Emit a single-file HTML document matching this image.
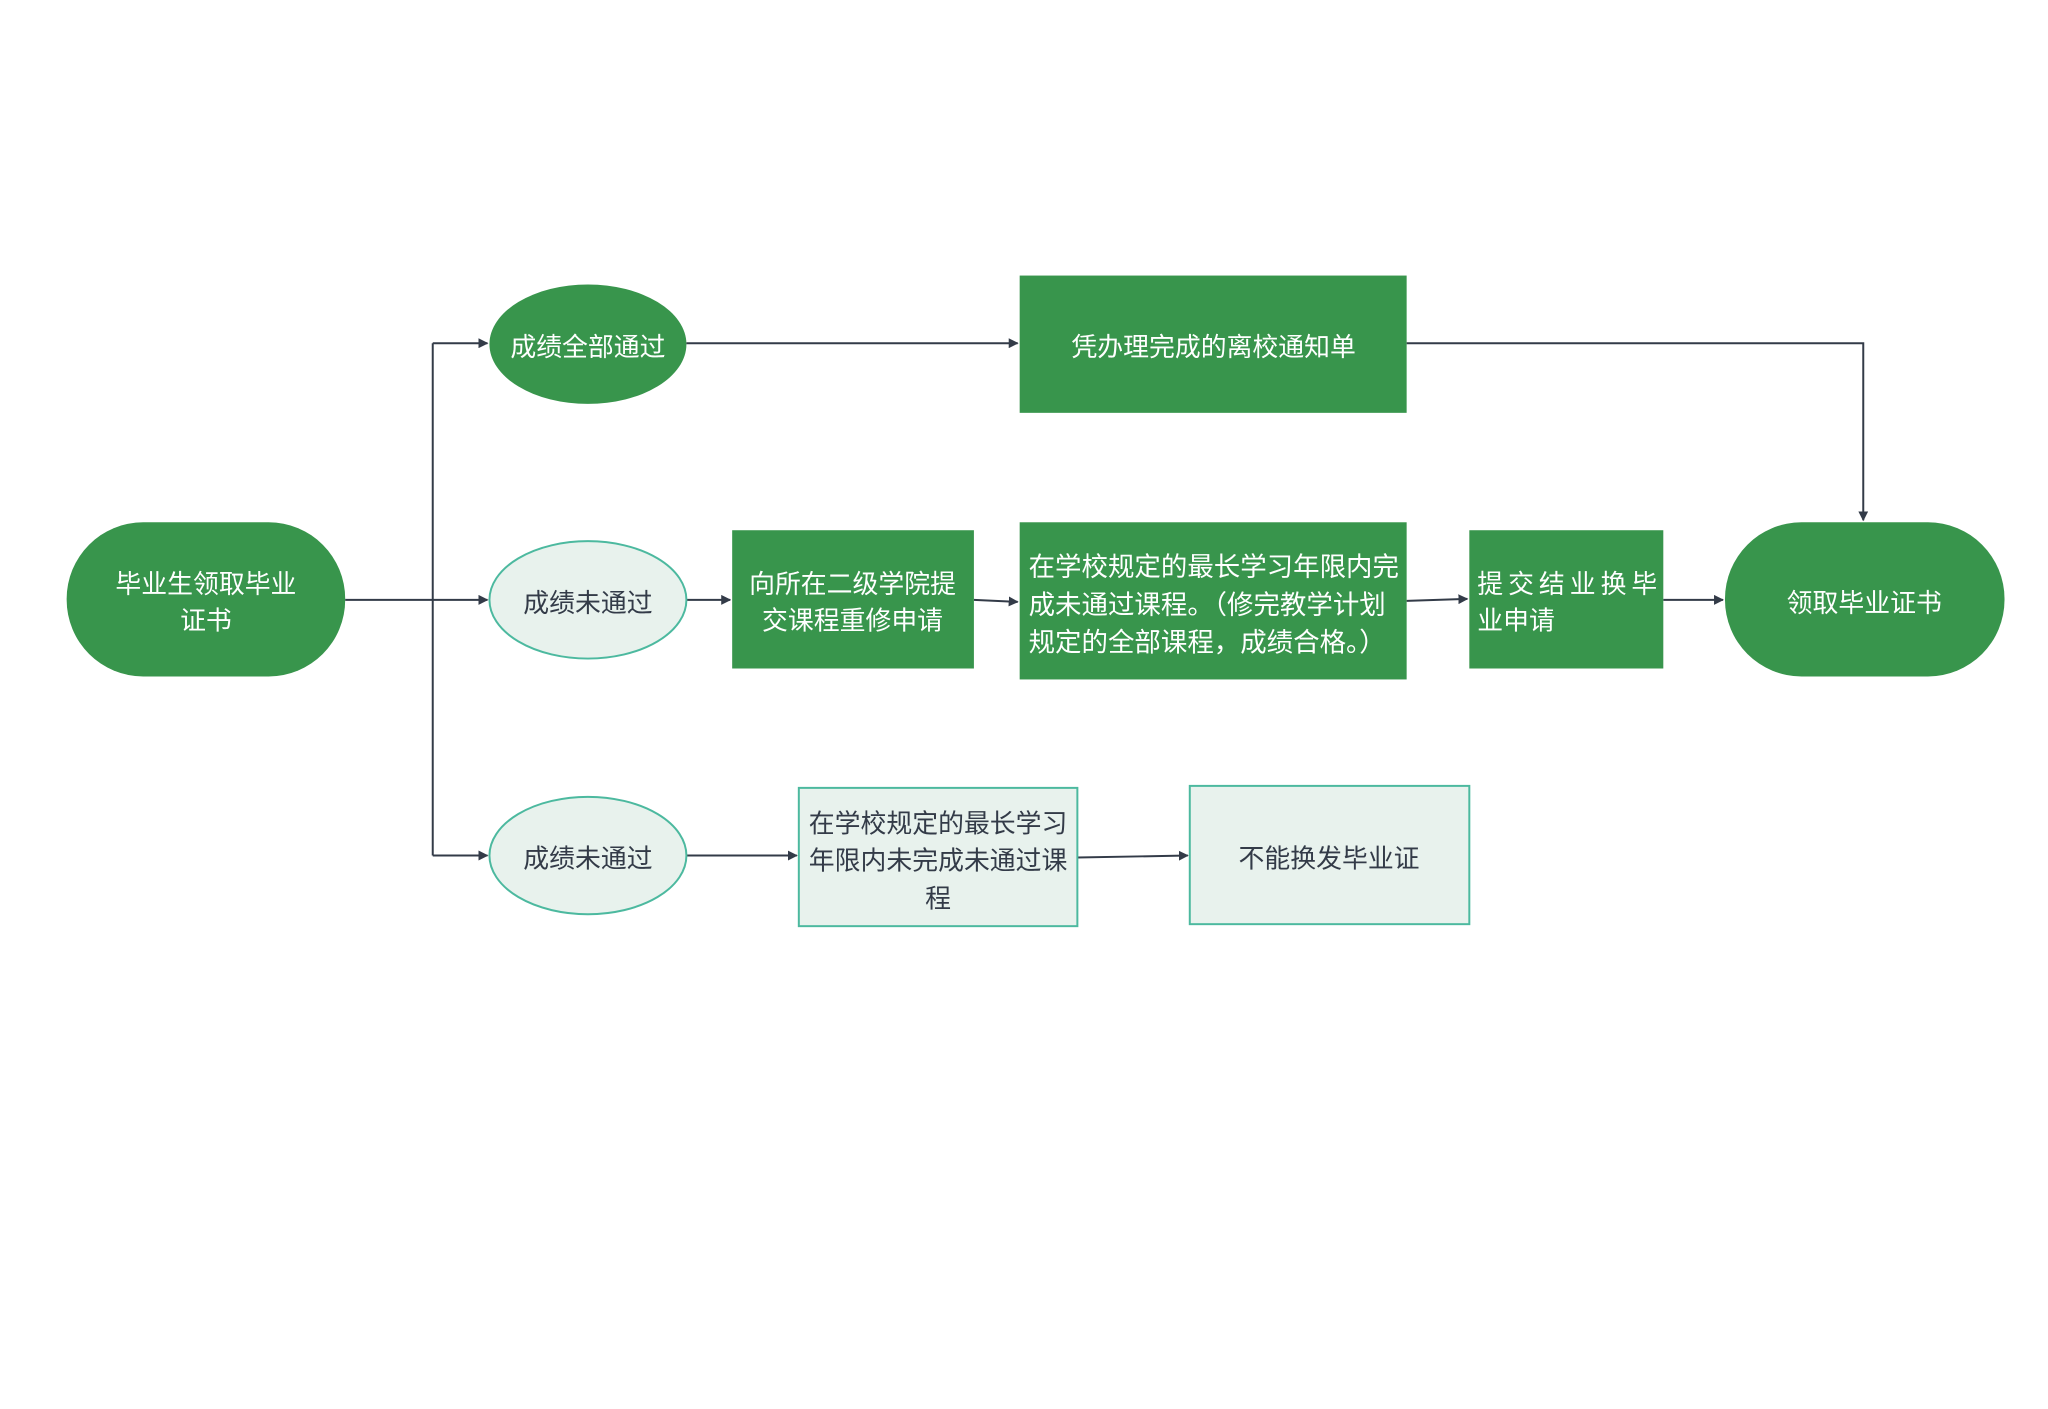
<!DOCTYPE html>
<html><head><meta charset="utf-8"><style>
html,body{margin:0;padding:0;background:#fff;}
svg text{font-family:"Liberation Sans","Noto Sans CJK SC",sans-serif;font-size:26px;}
</style></head><body>
<svg width="2048" height="1404" viewBox="0 0 2048 1404" xmlns="http://www.w3.org/2000/svg">
<defs><marker id="a" markerWidth="10" markerHeight="10" refX="9" refY="5" orient="auto" markerUnits="userSpaceOnUse"><path d="M0,0 L10,5 L0,10 z" fill="#333b48"/></marker></defs>
<g transform="scale(0.9948)">
<g stroke="#333b48" stroke-width="2" fill="none">
<path d="M347,603 H435"/>
<path d="M435,345 V860"/>
<path d="M435,345 H490" marker-end="url(#a)"/>
<path d="M435,603 H490" marker-end="url(#a)"/>
<path d="M435,860 H490" marker-end="url(#a)"/>
<path d="M690,345 H1023" marker-end="url(#a)"/>
<path d="M1414,345 H1873 V523" marker-end="url(#a)"/>
<path d="M690,603 H734" marker-end="url(#a)"/>
<path d="M979,603 L1023,605" marker-end="url(#a)"/>
<path d="M1414,604 L1475,602" marker-end="url(#a)"/>
<path d="M1672,603 H1732" marker-end="url(#a)"/>
<path d="M690,860 H801" marker-end="url(#a)"/>
<path d="M1083,862 L1194,860" marker-end="url(#a)"/>
</g>
<g fill="#38954c">
<rect x="67" y="525" width="280" height="155" rx="77"/>
<rect x="1734" y="525" width="281" height="155" rx="77"/>
<ellipse cx="591" cy="346" rx="99" ry="60"/>
<rect x="1025" y="277" width="389" height="138"/>
<rect x="736" y="533" width="243" height="139"/>
<rect x="1025" y="525" width="389" height="158"/>
<rect x="1477" y="533" width="195" height="139"/>
</g>
<g fill="#e8f2ed" stroke="#4cb99f" stroke-width="2">
<ellipse cx="591" cy="603" rx="99" ry="59"/>
<ellipse cx="591" cy="860" rx="99" ry="59"/>
<rect x="803" y="792" width="280" height="139"/>
<rect x="1196" y="790" width="281" height="139"/>
</g>
<g fill="#fff" text-anchor="middle">
<text x="207" y="596">毕业生领取毕业</text>
<text x="207" y="633">证书</text>
<text x="591" y="358">成绩全部通过</text>
<text x="1220" y="358">凭办理完成的离校通知单</text>
<text x="857" y="596">向所在二级学院提</text>
<text x="857" y="633">交课程重修申请</text>
<text x="1874" y="615">领取毕业证书</text>
</g>
<g fill="#fff">
<text x="1034" y="579" style="font-size:26.6px">在学校规定的最长学习年限内完</text>
<text x="1034" y="617" style="font-size:26.6px">成未通过课程。（修完教学计划</text>
<text x="1034" y="655" style="font-size:26.6px">规定的全部课程，成绩合格。）</text>
<text x="1485" y="596" letter-spacing="5">提交结业换毕</text>
<text x="1485" y="633">业申请</text>
</g>
<g fill="#333b48" text-anchor="middle">
<text x="591" y="615">成绩未通过</text>
<text x="591" y="872">成绩未通过</text>
<text x="943" y="837">在学校规定的最长学习</text>
<text x="943" y="874">年限内未完成未通过课</text>
<text x="943" y="912">程</text>
<text x="1336" y="872">不能换发毕业证</text>
</g>
</g>
</svg>
</body></html>
